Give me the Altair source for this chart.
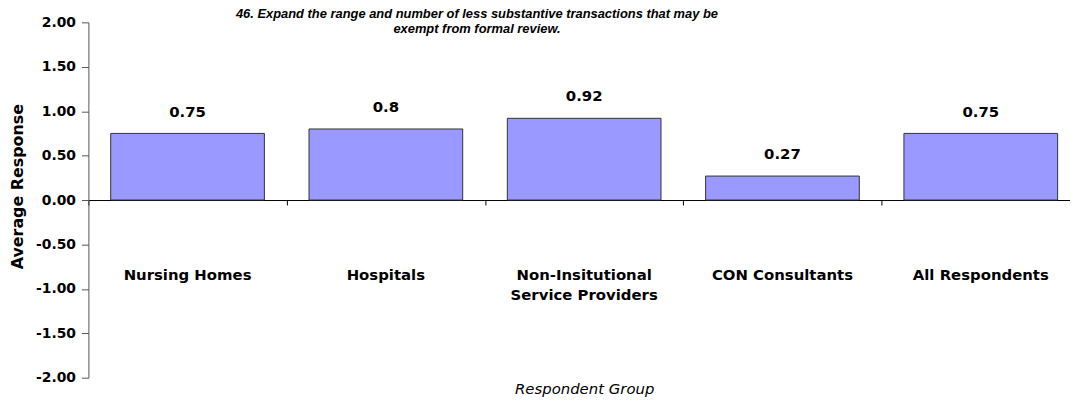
import altair as alt
import pandas as pd

categories = ["Nursing Homes", "Hospitals", "Non-Insitutional|Service Providers", "CON Consultants", "All Respondents"]
values = [0.75, 0.8, 0.92, 0.27, 0.75]
value_labels = ["0.75", "0.8", "0.92", "0.27", "0.75"]
y_ticks = [-2.0, -1.5, -1.0, -0.5, 0.0, 0.5, 1.0, 1.5, 2.0]
title_lines = ["46. Expand the range and number of less substantive transactions that may be",
               "exempt from formal review."]

df = pd.DataFrame({"group": categories, "value": values, "label": value_labels})

FONT = "DejaVu Sans"
NO_VIEW = alt.ViewBackground(stroke="transparent", strokeWidth=0)

y_scale = alt.Scale(domain=[-2, 2], nice=False, zero=False)

x_enc = alt.X(
    "group:N",
    sort=None,
    scale=alt.Scale(range=[0, 999], paddingInner=0.225, paddingOuter=0.1125),
    axis=alt.Axis(
        title="Respondent Group",
        titleFont=FONT, titleFontSize=15, titleFontWeight="normal", titleFontStyle="italic",
        titleColor="#000", titleY=190, titleBaseline="middle",
        labelExpr="split(datum.label, '|')",
        labelFont=FONT, labelFontSize=15, labelFontWeight="bold", labelColor="#000",
        labelAngle=0, labelBaseline="top", labelPadding=68, labelLineHeight=20,
        offset=-179, domainColor="#000", domainWidth=1,
        ticks=False, grid=False,
    ),
)

y_enc = alt.Y(
    "value:Q",
    scale=y_scale,
    axis=alt.Axis(
        title="Average Response", values=y_ticks,
        labelExpr="datum.value < 0 ? '-' + format(-datum.value, '.2f') : format(datum.value, '.2f')",
        titleFont=FONT, titleFontSize=16, titleFontWeight="bold", titleColor="#000",
        titleAngle=270, titleX=-71, titleY=165, titleAlign="center", titleBaseline="middle",
        labelFont=FONT, labelFontSize=14, labelFontWeight="bold", labelColor="#000",
        labelPadding=6, tickSize=7, tickColor="#555", domainColor="#555", grid=False,
    ),
)

bars = alt.Chart(df).mark_bar(color="#9999FF", stroke="#333333", strokeWidth=1).encode(
    x=x_enc, y=y_enc
).properties(view=NO_VIEW)

texts = alt.Chart(df).mark_text(
    font=FONT, fontSize=15, fontWeight="bold", color="#000", dy=-22, baseline="middle"
).encode(
    x=alt.X("group:N", sort=None),
    y=alt.Y("value:Q"),
    text="label:N",
).properties(view=NO_VIEW)

main = alt.layer(bars, texts).properties(view=NO_VIEW)

# invisible layer whose band scale has no padding: its axis draws ticks at category boundaries
tick_layer = alt.Chart(df).mark_bar(opacity=0, fillOpacity=0, strokeOpacity=0).encode(
    x=alt.X(
        "group:N", sort=None,
        scale=alt.Scale(range=[0, 999], paddingInner=0, paddingOuter=0),
        axis=alt.Axis(
            orient="bottom", offset=-179, labels=False, domain=False, title="",
            tickBand="extent", tickSize=5, tickColor="#000", grid=False,
        ),
    ),
).properties(view=NO_VIEW)

chart = alt.layer(main, tick_layer).resolve_scale(x="independent").resolve_axis(x="independent").properties(
    width=989,
    height=358,
    view=NO_VIEW,
    title=alt.TitleParams(
        text=title_lines, font="Liberation Sans", fontSize=13, fontWeight="bold", fontStyle="italic",
        color="#000", anchor="middle", baseline="top", offset=-21, lineHeight=15, dx=-103,
    ),
    padding={"left": 81, "top": 13, "right": 0, "bottom": 22},
    autosize=alt.AutoSizeParams(type="none"),
).configure_view(stroke="transparent", strokeWidth=0).configure(background="white")

chart.save("out.html", embed_options={"renderer": "svg", "actions": False})
